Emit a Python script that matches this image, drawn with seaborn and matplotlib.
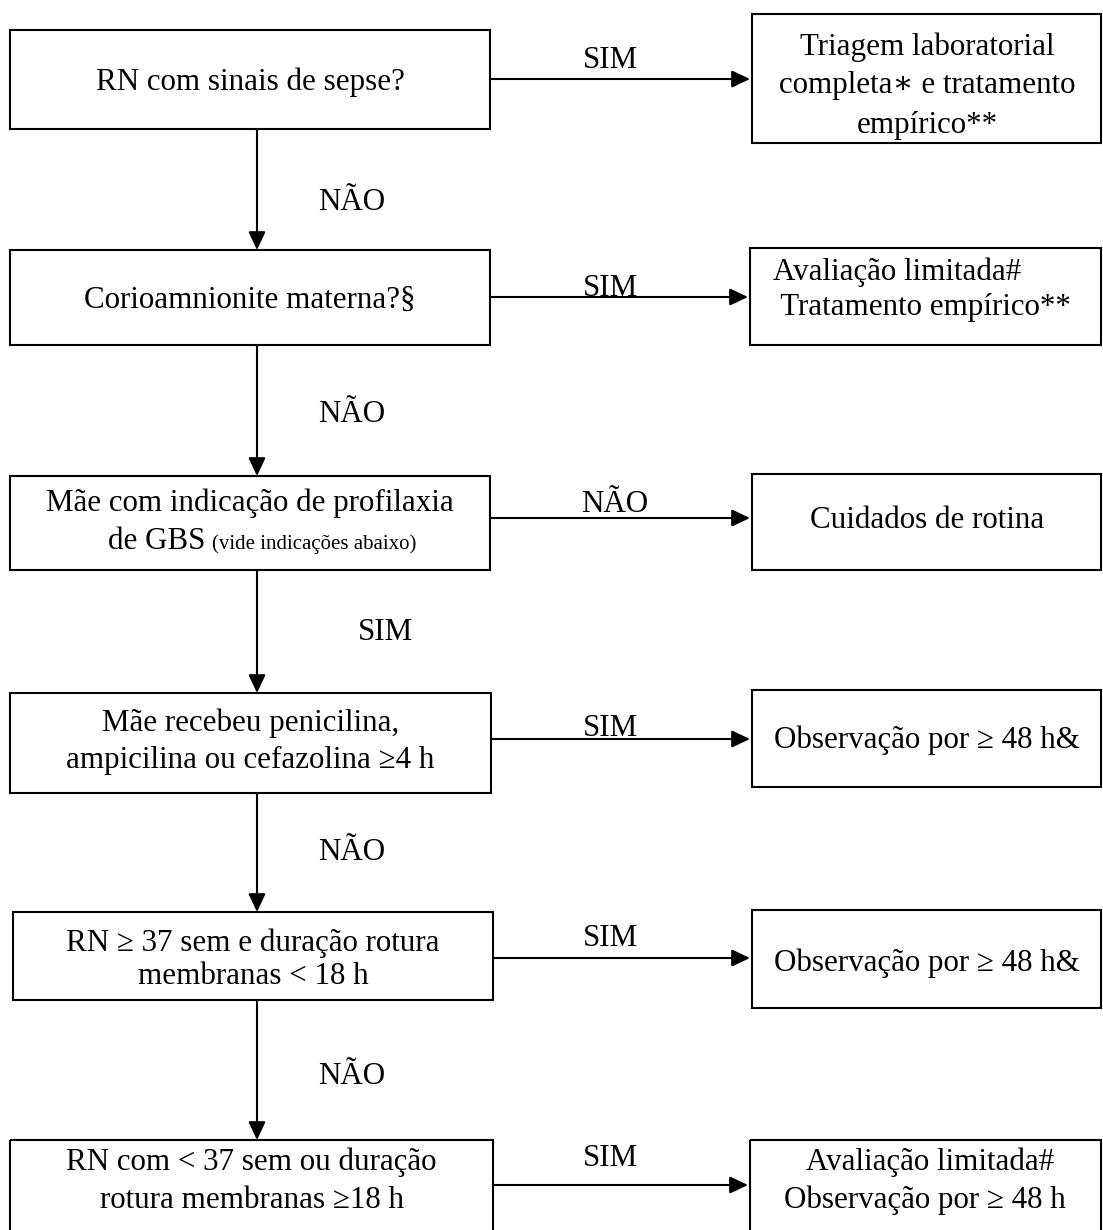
import matplotlib
matplotlib.use("Agg")
import matplotlib.pyplot as plt
from matplotlib.patches import Rectangle
import seaborn as sns

# ---- content ----
left_texts = [
    ["RN com sinais de sepse?"],
    ["Corioamnionite materna?§"],
    ["Mãe com indicação de profilaxia", "de GBS"],
    ["Mãe recebeu penicilina,", "ampicilina ou cefazolina ≥4 h"],
    ["RN ≥ 37 sem e duração rotura", "membranas < 18 h"],
    ["RN com < 37 sem ou duração", "rotura membranas ≥18 h"],
]
small_note = "(vide indicações abaixo)"
right_texts = [
    ["Triagem laboratorial", "completa∗ e tratamento", "empírico**"],
    ["Avaliação limitada#", " Tratamento empírico**"],
    ["Cuidados de rotina"],
    ["Observação por ≥ 48 h&"],
    ["Observação por ≥ 48 h&"],
    ["Avaliação limitada#", "Observação por ≥ 48 h"],
]
h_labels = ["SIM", "SIM", "NÃO", "SIM", "SIM", "SIM"]
v_labels = ["NÃO", "NÃO", "SIM", "NÃO", "NÃO"]

# ---- layout (pixels) ----
left_boxes = [(10, 30, 490, 129), (10, 250, 490, 345), (10, 476, 490, 570),
              (10, 693, 491, 793), (13, 912, 493, 1000), (10, 1140, 493, 1234)]
right_boxes = [(752, 14, 1101, 143), (750, 248, 1101, 345), (752, 474, 1101, 570),
               (752, 690, 1101, 787), (752, 910, 1101, 1008), (750, 1140, 1101, 1234)]
arrow_y = [79, 297, 518, 739, 958, 1185]
hlab_pos = [(610, 60), (610, 288), (615, 505), (610, 728), (610, 938), (610, 1158)]
vlab_pos = [(352, 203), (352, 415), (385, 632), (352, 853), (352, 1077)]
arrow_x = 257

left_line_y = [[82], [300], [503, 540], [723, 760], [943, 977], [1162, 1200]]
right_line_y = [[47, 85, 126], [272, 307], [520], [740], [963], [1162, 1200]]
right_line_x = [[927, 927, 927], [773, 773], [927], [927], [927], [930, 925]]
right_line_ha = [["center"] * 3, ["left", "left"], ["center"], ["center"], ["center"], ["center", "center"]]

sns.set_style("white")
plt.rcParams["font.family"] = ["Liberation Serif", "DejaVu Serif"]
plt.rcParams["text.color"] = "black"
FS = 22.3
FS_SMALL = 15
LW = 1.5

fig = plt.figure(figsize=(11.03, 12.30), dpi=100)
ax = fig.add_axes([0, 0, 1, 1])
ax.set_xlim(0, 1103)
ax.set_ylim(1230, 0)
ax.axis("off")
renderer = fig.canvas.get_renderer()

def box(b):
    x0, y0, x1, y1 = b
    ax.add_patch(Rectangle((x0, y0), x1 - x0, y1 - y0, fill=False,
                           edgecolor="black", linewidth=LW))

def arrow(x0, y0, x1, y1):
    ax.annotate("", xy=(x1, y1), xytext=(x0, y0),
                arrowprops=dict(arrowstyle="-|>,head_length=0.85,head_width=0.4",
                                color="black", lw=LW, shrinkA=0, shrinkB=0,
                                mutation_scale=13))

for i, b in enumerate(left_boxes):
    box(b)
    cx = (b[0] + b[2]) / 2
    for j, (t, y) in enumerate(zip(left_texts[i], left_line_y[i])):
        if i == 2 and j == 1:
            t1 = ax.text(0, y, t, ha="left", va="baseline", fontsize=FS, color="black")
            t2 = ax.text(0, y, small_note, ha="left", va="baseline", fontsize=FS_SMALL, color="black")
            w1 = t1.get_window_extent(renderer).width
            w2 = t2.get_window_extent(renderer).width
            gap = 6
            start = cx + 12 - (w1 + gap + w2) / 2
            base = y + 9
            t1.set_position((start, base))
            t2.set_position((start + w1 + gap, base))
        else:
            ax.text(cx, y, t, ha="center", va="center", fontsize=FS, color="black")

for i, b in enumerate(right_boxes):
    box(b)
    for t, y, x, ha in zip(right_texts[i], right_line_y[i], right_line_x[i], right_line_ha[i]):
        ax.text(x, y, t, ha=ha, va="center", fontsize=FS, color="black")

for i in range(6):
    arrow(left_boxes[i][2], arrow_y[i], right_boxes[i][0] - 2, arrow_y[i])
    ax.text(hlab_pos[i][0], hlab_pos[i][1], h_labels[i], ha="center", va="center",
            fontsize=FS, color="black")

for i in range(5):
    arrow(arrow_x, left_boxes[i][3], arrow_x, left_boxes[i + 1][1])
    ax.text(vlab_pos[i][0], vlab_pos[i][1], v_labels[i], ha="center", va="center",
            fontsize=FS, color="black")

fig.savefig("out.png", dpi=100, facecolor="white")
